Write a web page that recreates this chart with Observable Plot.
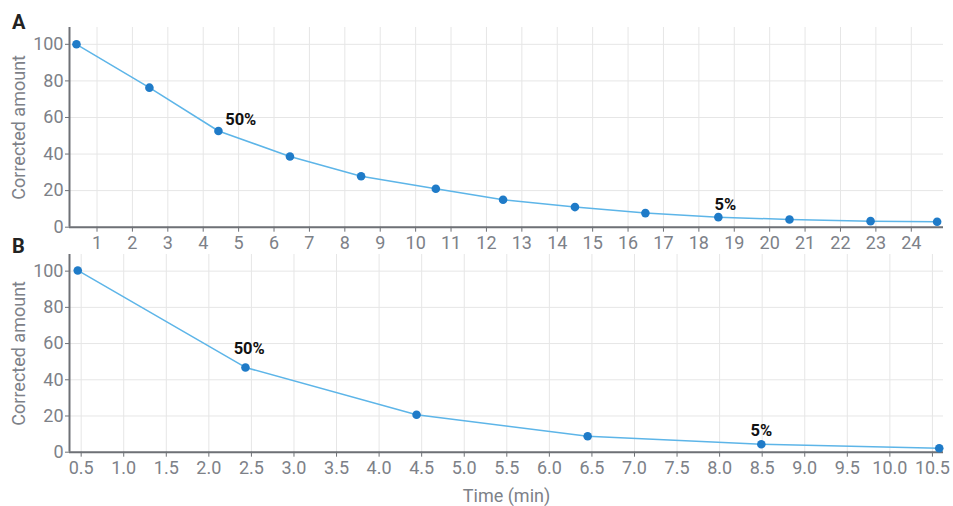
<!DOCTYPE html>
<html>
<head>
<meta charset="utf-8">
<script src="https://cdn.jsdelivr.net/npm/d3@7"></script>
<script src="https://cdn.jsdelivr.net/npm/@observablehq/plot@0.6"></script>
<style>
  body { margin: 0; background: #fff; font-family: Roboto, sans-serif; }
  #wrap { position: relative; width: 953px; height: 506px; }
  #wrap svg { display: block; }
  .panel-label { position: absolute; left: 12px; font: bold 20px Roboto, sans-serif; color: #222; }
</style>
</head>
<body>
<div id="wrap">
  <div id="a"></div>
  <div id="b"></div>
  <div class="panel-label" style="top:10px">A</div>
  <div class="panel-label" style="top:234px">B</div>
</div>
<script>
// ---- Panel A data ----
const timeA = [0.42, 2.48, 4.43, 6.45, 8.46, 10.57, 12.47, 14.5, 16.49, 18.55, 20.56, 22.85, 24.73];
const amountA = [100, 76.3, 52.6, 38.7, 27.9, 21.0, 15.0, 11.0, 7.7, 5.5, 4.2, 3.3, 3.0];
const ticksA = [1,2,3,4,5,6,7,8,9,10,11,12,13,14,15,16,17,18,19,20,21,22,23,24];
const labelTextA = ["50%", "5%"];
const labelTimeA = [5.06, 18.75];
const labelAmountA = [58.7, 12.3];

// ---- Panel B data ----
const timeB = [0.46, 2.43, 4.44, 6.45, 8.49, 10.58];
const amountB = [100.4, 46.8, 20.7, 8.8, 4.4, 2.2];
const ticksB = [0.5,1.0,1.5,2.0,2.5,3.0,3.5,4.0,4.5,5.0,5.5,6.0,6.5,7.0,7.5,8.0,8.5,9.0,9.5,10.0,10.5];
const labelTextB = ["50%", "5%"];
const labelTimeB = [2.474, 8.49];
const labelAmountB = [56.9, 12.0];

const yTicks = [0, 20, 40, 60, 80, 100];
const yTitle = "Corrected amount";
const xTitle = "Time (min)";

const xDomainA = [0.223, 24.91];
const xDomainB = [0.363, 10.63];
const yDomain = [0, 109.2];

const AXIS = "#6e7176", TEXT = "#7d8188", GRID = "#e6e6e6";
const LINE = "#5db5e8", DOT = "#1f7bc8";
const FS = 18;

function panel({time, amount, ticks, tickFormat, lt, lx, ly, xDomain, height, marginTop, marginBottom, withXTitle}) {
  const data = time.map((t, i) => ({time: t, amount: amount[i]}));
  const labels = lt.map((s, i) => ({text: s, time: lx[i], amount: ly[i]}));
  const marks = [
    Plot.gridX(ticks, {stroke: GRID, strokeOpacity: 1}),
    Plot.gridY(yTicks, {stroke: GRID, strokeOpacity: 1}),
    Plot.axisX(ticks, {tickSize: 5, tickPadding: 4, stroke: AXIS, fill: TEXT, label: null, tickFormat, fontSize: FS}),
    Plot.axisY(yTicks, {tickSize: 4, tickPadding: 2, stroke: AXIS, fill: TEXT, label: null, fontSize: FS}),
    Plot.ruleY([0], {stroke: AXIS, strokeWidth: 2}),
    Plot.ruleX([xDomain[0]], {stroke: AXIS, strokeWidth: 2}),
    Plot.line(data, {x: "time", y: "amount", stroke: LINE, strokeWidth: 1.5}),
    Plot.dot(data, {x: "time", y: "amount", r: 4.3, fill: DOT}),
    Plot.text(labels, {x: "time", y: "amount", text: "text", fontWeight: "bold", fontSize: 16.5, fill: "#111"}),
    Plot.text([yTitle], {frameAnchor: "left", textAnchor: "middle", lineAnchor: "middle", dx: -50, rotate: -90, text: d => d, fontSize: FS, fill: TEXT})
  ];
  if (withXTitle) {
    marks.push(Plot.text([xTitle], {frameAnchor: "bottom", textAnchor: "middle", lineAnchor: "middle", dy: 44, text: d => d, fontSize: FS, fill: TEXT}));
  }
  return Plot.plot({
    width: 953, height,
    marginLeft: 69, marginRight: 10, marginTop, marginBottom,
    style: {fontFamily: "Roboto, sans-serif", fontSize: FS + "px", color: TEXT, background: "transparent", overflow: "visible"},
    x: {domain: xDomain},
    y: {domain: yDomain},
    marks
  });
}

document.getElementById("a").append(panel({
  time: timeA, amount: amountA, ticks: ticksA, tickFormat: d3.format("d"),
  lt: labelTextA, lx: labelTimeA, ly: labelAmountA,
  xDomain: xDomainA, height: 250, marginTop: 27, marginBottom: 23.3, withXTitle: false
}));
document.getElementById("b").append(panel({
  time: timeB, amount: amountB, ticks: ticksB, tickFormat: d3.format(".1f"),
  lt: labelTextB, lx: labelTimeB, ly: labelAmountB,
  xDomain: xDomainB, height: 256, marginTop: 4, marginBottom: 54.3, withXTitle: true
}));
</script>
</body>
</html>
